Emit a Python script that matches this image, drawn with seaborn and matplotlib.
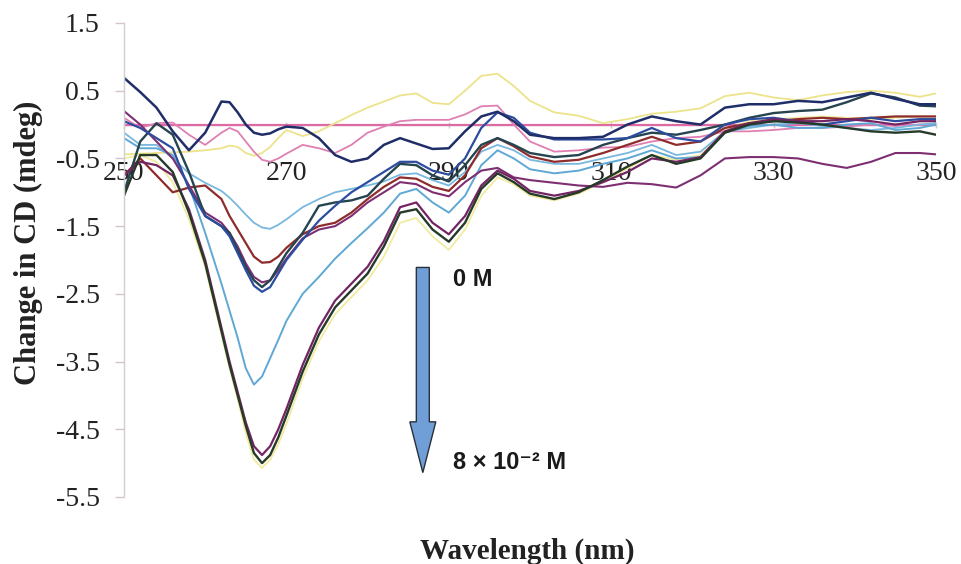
import numpy as np
import pandas as pd
import matplotlib
matplotlib.use("Agg")
import matplotlib.pyplot as plt
from matplotlib.patches import FancyArrow
import seaborn as sns

# Wavelength grid shared by all difference spectra (nm)
wavelength = [250, 252, 254, 256, 258, 260, 262, 263, 264, 265, 266, 267, 268, 269, 270,
              272, 274, 276, 278, 280, 282, 284, 286, 288, 290, 292, 294, 296, 298, 300,
              303, 306, 309, 312, 315, 318, 321, 324, 327, 330, 333, 336, 339, 342, 345,
              348, 350]

# Change in CD (mdeg) for each titration step
navy = [0.69, 0.48, 0.25, -0.10, -0.38, -0.12, 0.34, 0.33, 0.18, 0.00, -0.12, -0.15, -0.13, -0.07, -0.03,
        -0.05, -0.20, -0.45, -0.55, -0.50, -0.30, -0.20, -0.28, -0.36, -0.35, -0.10, 0.12, 0.19, 0.05, -0.15,
        -0.20, -0.20, -0.18, 0.00, 0.12, 0.05, 0.00, 0.25, 0.30, 0.30, 0.35, 0.33, 0.40, 0.47, 0.38,
        0.30, 0.30]
yellow_up = [-0.44, -0.43, -0.42, -0.41, -0.40, -0.38, -0.35, -0.31, -0.33, -0.42, -0.46, -0.42, -0.33, -0.20, -0.08,
             -0.17, -0.10, 0.02, 0.14, 0.25, 0.34, 0.43, 0.46, 0.32, 0.30, 0.50, 0.72, 0.75, 0.57, 0.35,
             0.18, 0.13, 0.02, 0.08, 0.16, 0.19, 0.24, 0.42, 0.47, 0.40, 0.36, 0.43, 0.48, 0.50, 0.47,
             0.41, 0.46]
pink = [0.10, -0.05, 0.02, 0.03, -0.15, -0.30, -0.12, -0.05, -0.10, -0.25, -0.40, -0.52, -0.55, -0.50, -0.43,
        -0.30, -0.35, -0.42, -0.30, -0.12, -0.03, 0.05, 0.07, 0.07, 0.07, 0.15, 0.27, 0.28, 0.00, -0.25,
        -0.40, -0.38, -0.34, -0.33, -0.25, -0.20, -0.18, -0.10, -0.10, -0.08, -0.05, -0.05, -0.03, 0.00, -0.02,
        0.00, 0.00]
blue = [0.05, -0.05, -0.20, -0.35, -0.95, -1.35, -1.50, -1.65, -1.90, -2.15, -2.38, -2.47, -2.40, -2.20, -2.00,
        -1.70, -1.42, -1.20, -1.00, -0.85, -0.70, -0.55, -0.55, -0.68, -0.74, -0.50, -0.05, 0.18, 0.10, -0.12,
        -0.22, -0.22, -0.22, -0.20, -0.05, -0.20, -0.25, 0.00, 0.08, 0.10, 0.05, 0.00, 0.05, 0.10, 0.05,
        0.08, 0.08]
slate = [-1.00, -0.25, 0.02, -0.15, -0.70, -1.35, -1.50, -1.60, -1.85, -2.10, -2.30, -2.40, -2.30, -2.10, -1.90,
         -1.60, -1.20, -1.15, -1.12, -1.05, -0.80, -0.58, -0.60, -0.75, -0.84, -0.60, -0.30, -0.20, -0.30, -0.42,
         -0.48, -0.45, -0.30, -0.20, -0.12, -0.15, -0.08, 0.00, 0.10, 0.17, 0.20, 0.22, 0.33, 0.46, 0.40,
         0.28, 0.27]
dark_red = [-0.75, -0.50, -0.75, -1.00, -0.93, -0.90, -1.10, -1.35, -1.55, -1.75, -1.95, -2.04, -2.03, -1.95, -1.82,
            -1.62, -1.50, -1.45, -1.30, -1.10, -0.92, -0.78, -0.80, -0.92, -0.98, -0.75, -0.35, -0.20, -0.32, -0.47,
            -0.55, -0.52, -0.42, -0.30, -0.18, -0.30, -0.25, -0.05, 0.02, 0.05, 0.08, 0.10, 0.08, 0.10, 0.12,
            0.12, 0.12]
purple = [0.20, 0.00, -0.25, -0.50, -0.90, -1.30, -1.45, -1.60, -1.80, -2.05, -2.25, -2.33, -2.30, -2.15, -1.98,
          -1.68, -1.55, -1.50, -1.35, -1.15, -1.00, -0.85, -0.88, -1.00, -1.06, -0.85, -0.68, -0.64, -0.78, -0.82,
          -0.86, -0.90, -0.92, -0.86, -0.88, -0.93, -0.75, -0.50, -0.48, -0.48, -0.50, -0.58, -0.64, -0.55, -0.42,
          -0.42, -0.44]
light_blue = [-0.12, -0.30, -0.30, -0.50, -0.72, -0.86, -0.98, -1.08, -1.20, -1.33, -1.45, -1.52, -1.54, -1.48, -1.40,
              -1.22, -1.10, -1.00, -0.95, -0.90, -0.84, -0.74, -0.72, -0.82, -0.90, -0.70, -0.40, -0.30, -0.38, -0.52,
              -0.58, -0.58, -0.50, -0.42, -0.30, -0.45, -0.40, -0.10, -0.05, 0.00, 0.02, -0.02, -0.05, -0.08, -0.05,
              0.00, 0.02]
sky_blue = [-0.20, -0.35, -0.35, -0.45, -0.90, -1.60, -2.35, -2.75, -3.15, -3.60, -3.84, -3.72, -3.45, -3.18, -2.90,
            -2.50, -2.25, -1.98, -1.75, -1.53, -1.30, -1.02, -0.95, -1.15, -1.30, -1.05, -0.60, -0.38, -0.50, -0.66,
            -0.72, -0.68, -0.58, -0.50, -0.38, -0.50, -0.48, -0.12, -0.02, 0.00, -0.05, -0.05, 0.00, 0.02, -0.08,
            -0.05, 0.00]
deep_purple = [-0.75, -0.55, -0.60, -0.75, -1.25, -2.00, -3.00, -3.50, -3.95, -4.40, -4.75, -4.88, -4.75, -4.50, -4.20,
               -3.55, -3.00, -2.60, -2.35, -2.10, -1.72, -1.22, -1.15, -1.45, -1.62, -1.35, -0.90, -0.68, -0.80, -0.98,
               -1.05, -0.98, -0.85, -0.70, -0.50, -0.55, -0.48, -0.10, 0.02, 0.08, 0.05, 0.05, 0.08, 0.05, 0.00,
               0.05, 0.05]
deep_green = [-1.05, -0.45, -0.45, -0.70, -1.30, -2.05, -3.05, -3.55, -4.00, -4.45, -4.85, -5.00, -4.88, -4.62, -4.30,
              -3.65, -3.10, -2.70, -2.45, -2.20, -1.80, -1.30, -1.25, -1.55, -1.73, -1.45, -0.95, -0.72, -0.85, -1.02,
              -1.10, -1.00, -0.82, -0.62, -0.45, -0.58, -0.50, -0.12, 0.00, 0.05, 0.03, 0.00, -0.05, -0.10, -0.12,
              -0.10, -0.15]
yellow_deep = [-0.50, -0.45, -0.55, -0.85, -1.40, -2.10, -3.10, -3.60, -4.05, -4.55, -4.95, -5.07, -4.95, -4.72, -4.42,
               -3.75, -3.20, -2.80, -2.55, -2.30, -1.95, -1.45, -1.38, -1.65, -1.85, -1.55, -1.05, -0.78, -0.88, -1.05,
               -1.12, -1.02, -0.85, -0.65, -0.45, -0.52, -0.45, -0.08, 0.05, 0.08, 0.10, 0.12, 0.10, 0.08, 0.10,
               0.12, 0.12]

# Reference (0 M) spectrum: no change across the range
baseline_wl = [250, 350]
baseline_cd = [0.0, 0.0]

x_ticks = [250, 270, 290, 310, 330, 350]
y_ticks = [1.5, 0.5, -0.5, -1.5, -2.5, -3.5, -4.5, -5.5]
y_tick_labels = ["1.5", "0.5", "-0.5", "-1.5", "-2.5", "-3.5", "-4.5", "-5.5"]

series = {
    "s01": (yellow_deep, "#f1eba0", 1.3),
    "s02": (yellow_up, "#ece38a", 1.3),
    "s03": (pink, "#e07fb2", 1.3),
    "s04": (light_blue, "#78b8de", 1.3),
    "s05": (sky_blue, "#5fa8d5", 1.4),
    "s06": (dark_red, "#8e2c2c", 1.6),
    "s07": (purple, "#7e2f72", 1.5),
    "s08": (slate, "#26444f", 1.7),
    "s09": (blue, "#2c4d9e", 1.6),
    "s10": (navy, "#1f2e68", 1.8),
    "s11": (deep_purple, "#732463", 1.6),
    "s12": (deep_green, "#263a29", 1.7),
}

frames = []
for name, (vals, _, _) in series.items():
    frames.append(pd.DataFrame({"wavelength": wavelength, "cd": vals, "series": name}))
df = pd.concat(frames, ignore_index=True)

sns.set_theme(style="white")
plt.rcParams["font.family"] = ["Liberation Serif", "DejaVu Serif"]
plt.rcParams["axes.unicode_minus"] = False

fig = plt.figure(figsize=(9.62, 5.64), dpi=100)
ax = fig.add_axes([124 / 962, 1 - 497 / 564, 812 / 962, 474 / 564])

sns.lineplot(x=baseline_wl, y=baseline_cd, ax=ax, color="#de6aa4", linewidth=1.6, zorder=1)
for name, (vals, color, lw) in series.items():
    sub = df[df["series"] == name]
    sns.lineplot(data=sub, x="wavelength", y="cd", ax=ax, color=color,
                 linewidth=lw, estimator=None, sort=False, zorder=2)

ax.set_xlim(250, 350)
ax.set_ylim(-5.5, 1.5)
ax.set_xticks(x_ticks)
ax.set_xticklabels([str(t) for t in x_ticks])
ax.set_yticks(y_ticks)
ax.set_yticklabels(y_tick_labels)

for side in ("top", "right"):
    ax.spines[side].set_visible(False)
ax.spines["left"].set_color("#cfcfcf")
ax.spines["left"].set_linewidth(1.0)
ax.spines["bottom"].set_position(("data", 0))
ax.spines["bottom"].set_color("#cfcfcf")
ax.spines["bottom"].set_linewidth(1.0)
ax.spines["bottom"].set_zorder(0)

ax.tick_params(axis="y", which="major", direction="out", length=6.5, width=1,
               color="#d6c4cc", pad=11, labelsize=20, labelcolor="#222222", left=True)
ax.tick_params(axis="x", which="major", direction="inout", length=5, width=1,
               color="#c8c8c8", pad=24, labelsize=20, labelcolor="#222222", bottom=True)

ax.set_xlabel("Wavelength (nm)", fontsize=21, fontweight="bold", color="#222222")
ax.set_ylabel("Change in CD (mdeg)", fontsize=22, fontweight="bold", color="#222222")
ax.xaxis.set_label_coords(0.497, -0.086)
ax.yaxis.set_label_coords(-0.100, 0.536)

# Titration direction arrow with concentration labels
arrow_x, arrow_top, arrow_tip = 286.8, -2.11, -5.14
arrow = FancyArrow(arrow_x, arrow_top, 0, arrow_tip - arrow_top, width=1.6, head_width=3.2,
                   head_length=0.75, length_includes_head=True,
                   facecolor="#6f9fd6", edgecolor="#2a2f3a", linewidth=1.0, zorder=5)
ax.add_patch(arrow)
label_font = ["Liberation Sans", "DejaVu Sans"]
ax.text(290.5, -2.29, "0 M", fontsize=17, fontweight="bold", color="#1a1a1a",
        family=label_font, va="center", ha="left")
ax.text(290.5, -4.99, "8 × 10⁻² M", fontsize=17, fontweight="bold", color="#1a1a1a",
        family=label_font, va="center", ha="left")

fig.savefig("out.png", dpi=100, facecolor="white")
